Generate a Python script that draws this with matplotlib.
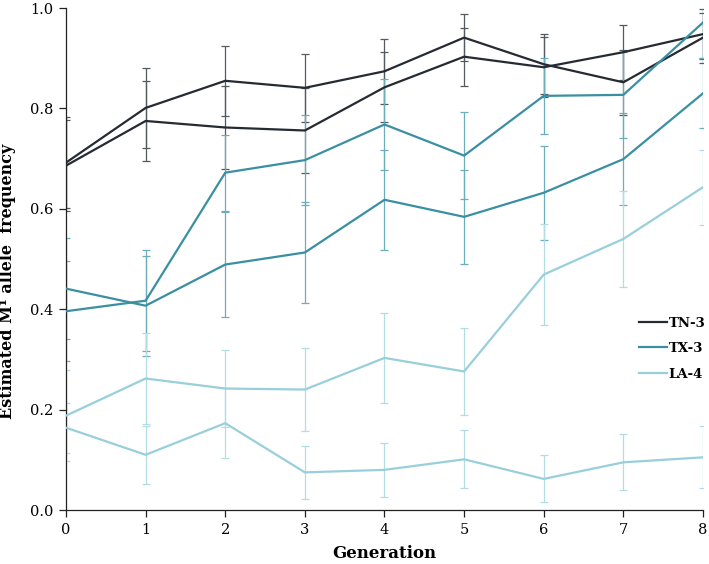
import matplotlib
matplotlib.use("Agg")
import matplotlib.pyplot as plt

generation = [0, 1, 2, 3, 4, 5, 6, 7, 8]

# two replicate lines per population
tn3_a = [0.692, 0.801, 0.855, 0.841, 0.874, 0.941, 0.888, 0.852, 0.941]
tn3_a_err = [0.09, 0.08, 0.07, 0.068, 0.065, 0.047, 0.06, 0.065, 0.05]
tn3_b = [0.686, 0.775, 0.762, 0.756, 0.842, 0.903, 0.882, 0.912, 0.948]
tn3_b_err = [0.09, 0.08, 0.083, 0.085, 0.07, 0.058, 0.06, 0.055, 0.05]

tx3_a = [0.396, 0.417, 0.672, 0.697, 0.768, 0.706, 0.825, 0.827, 0.971]
tx3_a_err = [0.10, 0.10, 0.076, 0.09, 0.09, 0.087, 0.075, 0.085, 0.07]
tx3_b = [0.441, 0.407, 0.489, 0.513, 0.618, 0.584, 0.632, 0.699, 0.830]
tx3_b_err = [0.10, 0.10, 0.105, 0.10, 0.10, 0.093, 0.094, 0.092, 0.07]

la4_a = [0.188, 0.262, 0.242, 0.240, 0.303, 0.276, 0.469, 0.540, 0.643]
la4_a_err = [0.09, 0.09, 0.077, 0.083, 0.09, 0.086, 0.10, 0.095, 0.075]
la4_b = [0.164, 0.110, 0.173, 0.075, 0.080, 0.101, 0.062, 0.095, 0.105]
la4_b_err = [0.05, 0.058, 0.07, 0.053, 0.054, 0.058, 0.047, 0.056, 0.062]

labels = ["TN-3", "TX-3", "LA-4"]


def plot_data():
    plt.rcParams.update({
        "font.family": "DejaVu Serif",
        "font.size": 10,
    })

    fig = plt.figure(figsize=(7.09, 5.64), dpi=100)
    ax = fig.add_axes([0.0931, 0.0957, 0.8984, 0.8901])

    groups = [
        (tn3_a, tn3_a_err, tn3_b, tn3_b_err, "#262b33", "#555a60"),
        (tx3_a, tx3_a_err, tx3_b, tx3_b_err, "#3a8fa2", "#6aaebb"),
        (la4_a, la4_a_err, la4_b, la4_b_err, "#98cfdb", "#b3dce5"),
    ]

    for (ya, ea, yb, eb, col, ecol), lab in zip(groups, labels):
        for y, e in ((ya, ea), (yb, eb)):
            ax.errorbar(generation, y, yerr=e, fmt="none", ecolor=ecol,
                        elinewidth=0.9, capsize=3, capthick=0.9, zorder=2)
        ax.plot(generation, ya, color=col, lw=1.6, zorder=3, label=lab)
        ax.plot(generation, yb, color=col, lw=1.6, zorder=3)

    ax.set_xlim(0, 8)
    ax.set_ylim(0, 1.0)
    ax.set_xticks(generation)
    ax.set_yticks([0.0, 0.2, 0.4, 0.6, 0.8, 1.0])
    ax.set_yticklabels(["0.0", "0.2", "0.4", "0.6", "0.8", "1.0"])
    ax.spines["top"].set_visible(False)
    ax.spines["right"].set_visible(False)
    for s in ("left", "bottom"):
        ax.spines[s].set_color("#222222")
        ax.spines[s].set_linewidth(0.9)
    ax.tick_params(direction="out", length=5, width=0.9, color="#222222",
                   labelsize=10.5, pad=4)

    ax.set_xlabel("Generation", fontsize=12, fontweight="bold", labelpad=6)
    ax.set_ylabel("Estimated M\u00b9 allele  frequency", fontsize=11.5,
                  fontweight="bold")
    ax.yaxis.set_label_coords(-0.079, 0.456)

    fig.legend(loc="center left", bbox_to_anchor=(0.901, 0.382),
               frameon=False, handlelength=2.1, handletextpad=0.15,
               labelspacing=0.95, borderpad=0, borderaxespad=0,
               prop={"family": "DejaVu Serif", "weight": "bold", "size": 9.5})

    fig.savefig("out.png", dpi=100)


if __name__ == "__main__":
    plot_data()
